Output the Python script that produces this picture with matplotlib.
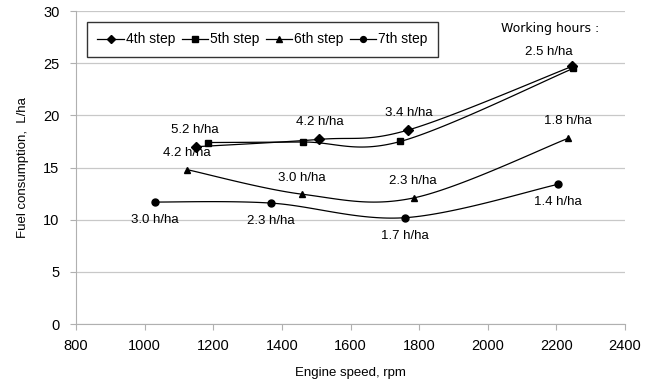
import numpy as np
import matplotlib.pyplot as plt

plt.rcParams["font.family"] = ["Liberation Sans", "DejaVu Sans"]

# data
rpm_4th = [1150, 1508, 1768, 2246]
fuel_4th = [17.0, 17.7, 18.6, 24.7]
rpm_5th = [1185, 1462, 1745, 2249]
fuel_5th = [17.4, 17.45, 17.5, 24.5]
rpm_6th = [1124, 1459, 1785, 2234]
fuel_6th = [14.8, 12.45, 12.1, 17.8]
rpm_7th = [1030, 1368, 1759, 2205]
fuel_7th = [11.7, 11.6, 10.2, 13.4]

hours_labels = ["5.2 h/ha", "4.2 h/ha", "3.4 h/ha", "2.5 h/ha",
                "4.2 h/ha", "3.0 h/ha", "2.3 h/ha", "1.8 h/ha",
                "3.0 h/ha", "2.3 h/ha", "1.7 h/ha", "1.4 h/ha"]
hours_x = [1147, 1511, 1771, 2179, 1124, 1459, 1782, 2234, 1030, 1368, 1759, 2205]
hours_y = [18.6, 19.4, 20.2, 26.1, 16.4, 14.0, 13.7, 19.5, 10.0, 9.9, 8.4, 11.7]


def smooth(xs, ys, n=40):
    # Excel-like smoothed line (cubic Bezier, Catmull-Rom control points)
    xs = np.asarray(xs, float)
    ys = np.asarray(ys, float)
    px = np.concatenate([[xs[0]], xs, [xs[-1]]])
    py = np.concatenate([[ys[0]], ys, [ys[-1]]])
    out_x, out_y = [], []
    t = np.linspace(0, 1, n)
    for i in range(1, len(px) - 2):
        p0 = np.array([px[i], py[i]])
        p3 = np.array([px[i + 1], py[i + 1]])
        c1 = p0 + (np.array([px[i + 1], py[i + 1]]) - np.array([px[i - 1], py[i - 1]])) / 6
        c2 = p3 - (np.array([px[i + 2], py[i + 2]]) - np.array([px[i], py[i]])) / 6
        b = ((1 - t) ** 3)[:, None] * p0 + (3 * (1 - t) ** 2 * t)[:, None] * c1 \
            + (3 * (1 - t) * t ** 2)[:, None] * c2 + (t ** 3)[:, None] * p3
        out_x.extend(b[:, 0])
        out_y.extend(b[:, 1])
    return out_x, out_y


fig = plt.figure(figsize=(6.52, 3.85), dpi=100)
ax = fig.add_axes([0.1166, 0.158, 0.842, 0.8134])

series = [
    (rpm_4th, fuel_4th, "D", 5, "4th step"),
    (rpm_5th, fuel_5th, "s", 4.8, "5th step"),
    (rpm_6th, fuel_6th, "^", 5, "6th step"),
    (rpm_7th, fuel_7th, "o", 5, "7th step"),
]
for xs, ys, mk, ms, name in series:
    sx, sy = smooth(xs, ys)
    ax.plot(sx, sy, color="black", lw=0.9)
    ax.plot(xs, ys, linestyle="none", marker=mk, ms=ms, color="black")
    # legend proxy
    ax.plot([], [], color="black", lw=0.9, marker=mk, ms=ms - 0.8, label=name)

for lab, x, y in zip(hours_labels, hours_x, hours_y):
    ax.text(x, y, lab, ha="center", va="center", fontsize=9.5)

ax.text(2181, 28.3, "Working hours :", ha="center", va="center", fontsize=9,
        family="DejaVu Sans")

ax.set_xlim(800, 2400)
ax.set_ylim(0, 30)
ax.set_xticks(range(800, 2401, 200))
ax.set_yticks(range(0, 31, 5))
ax.yaxis.grid(True, color="#c8c8c8", lw=0.9)
ax.set_axisbelow(True)
for s in ["top", "right"]:
    ax.spines[s].set_visible(False)
for s in ["left", "bottom"]:
    ax.spines[s].set_color("#b0b0b0")
ax.tick_params(axis="both", labelsize=10.5, color="#b0b0b0", length=4)
ax.tick_params(axis="y", pad=8)
ax.tick_params(axis="x", pad=7)

ax.set_xlabel("Engine speed, rpm", fontsize=9.5, labelpad=10)
ax.set_ylabel("Fuel consumption,  L/ha", fontsize=9.5, labelpad=10)

leg = ax.legend(loc="upper left", bbox_to_anchor=(0.02, 0.965), ncol=4,
                fontsize=10, frameon=True, fancybox=False, handlelength=1.9,
                handletextpad=0.15, columnspacing=0.45, borderpad=0.75,
                borderaxespad=0)
leg.get_frame().set_edgecolor("black")
leg.get_frame().set_linewidth(1.0)

fig.savefig("out.png", dpi=100)
